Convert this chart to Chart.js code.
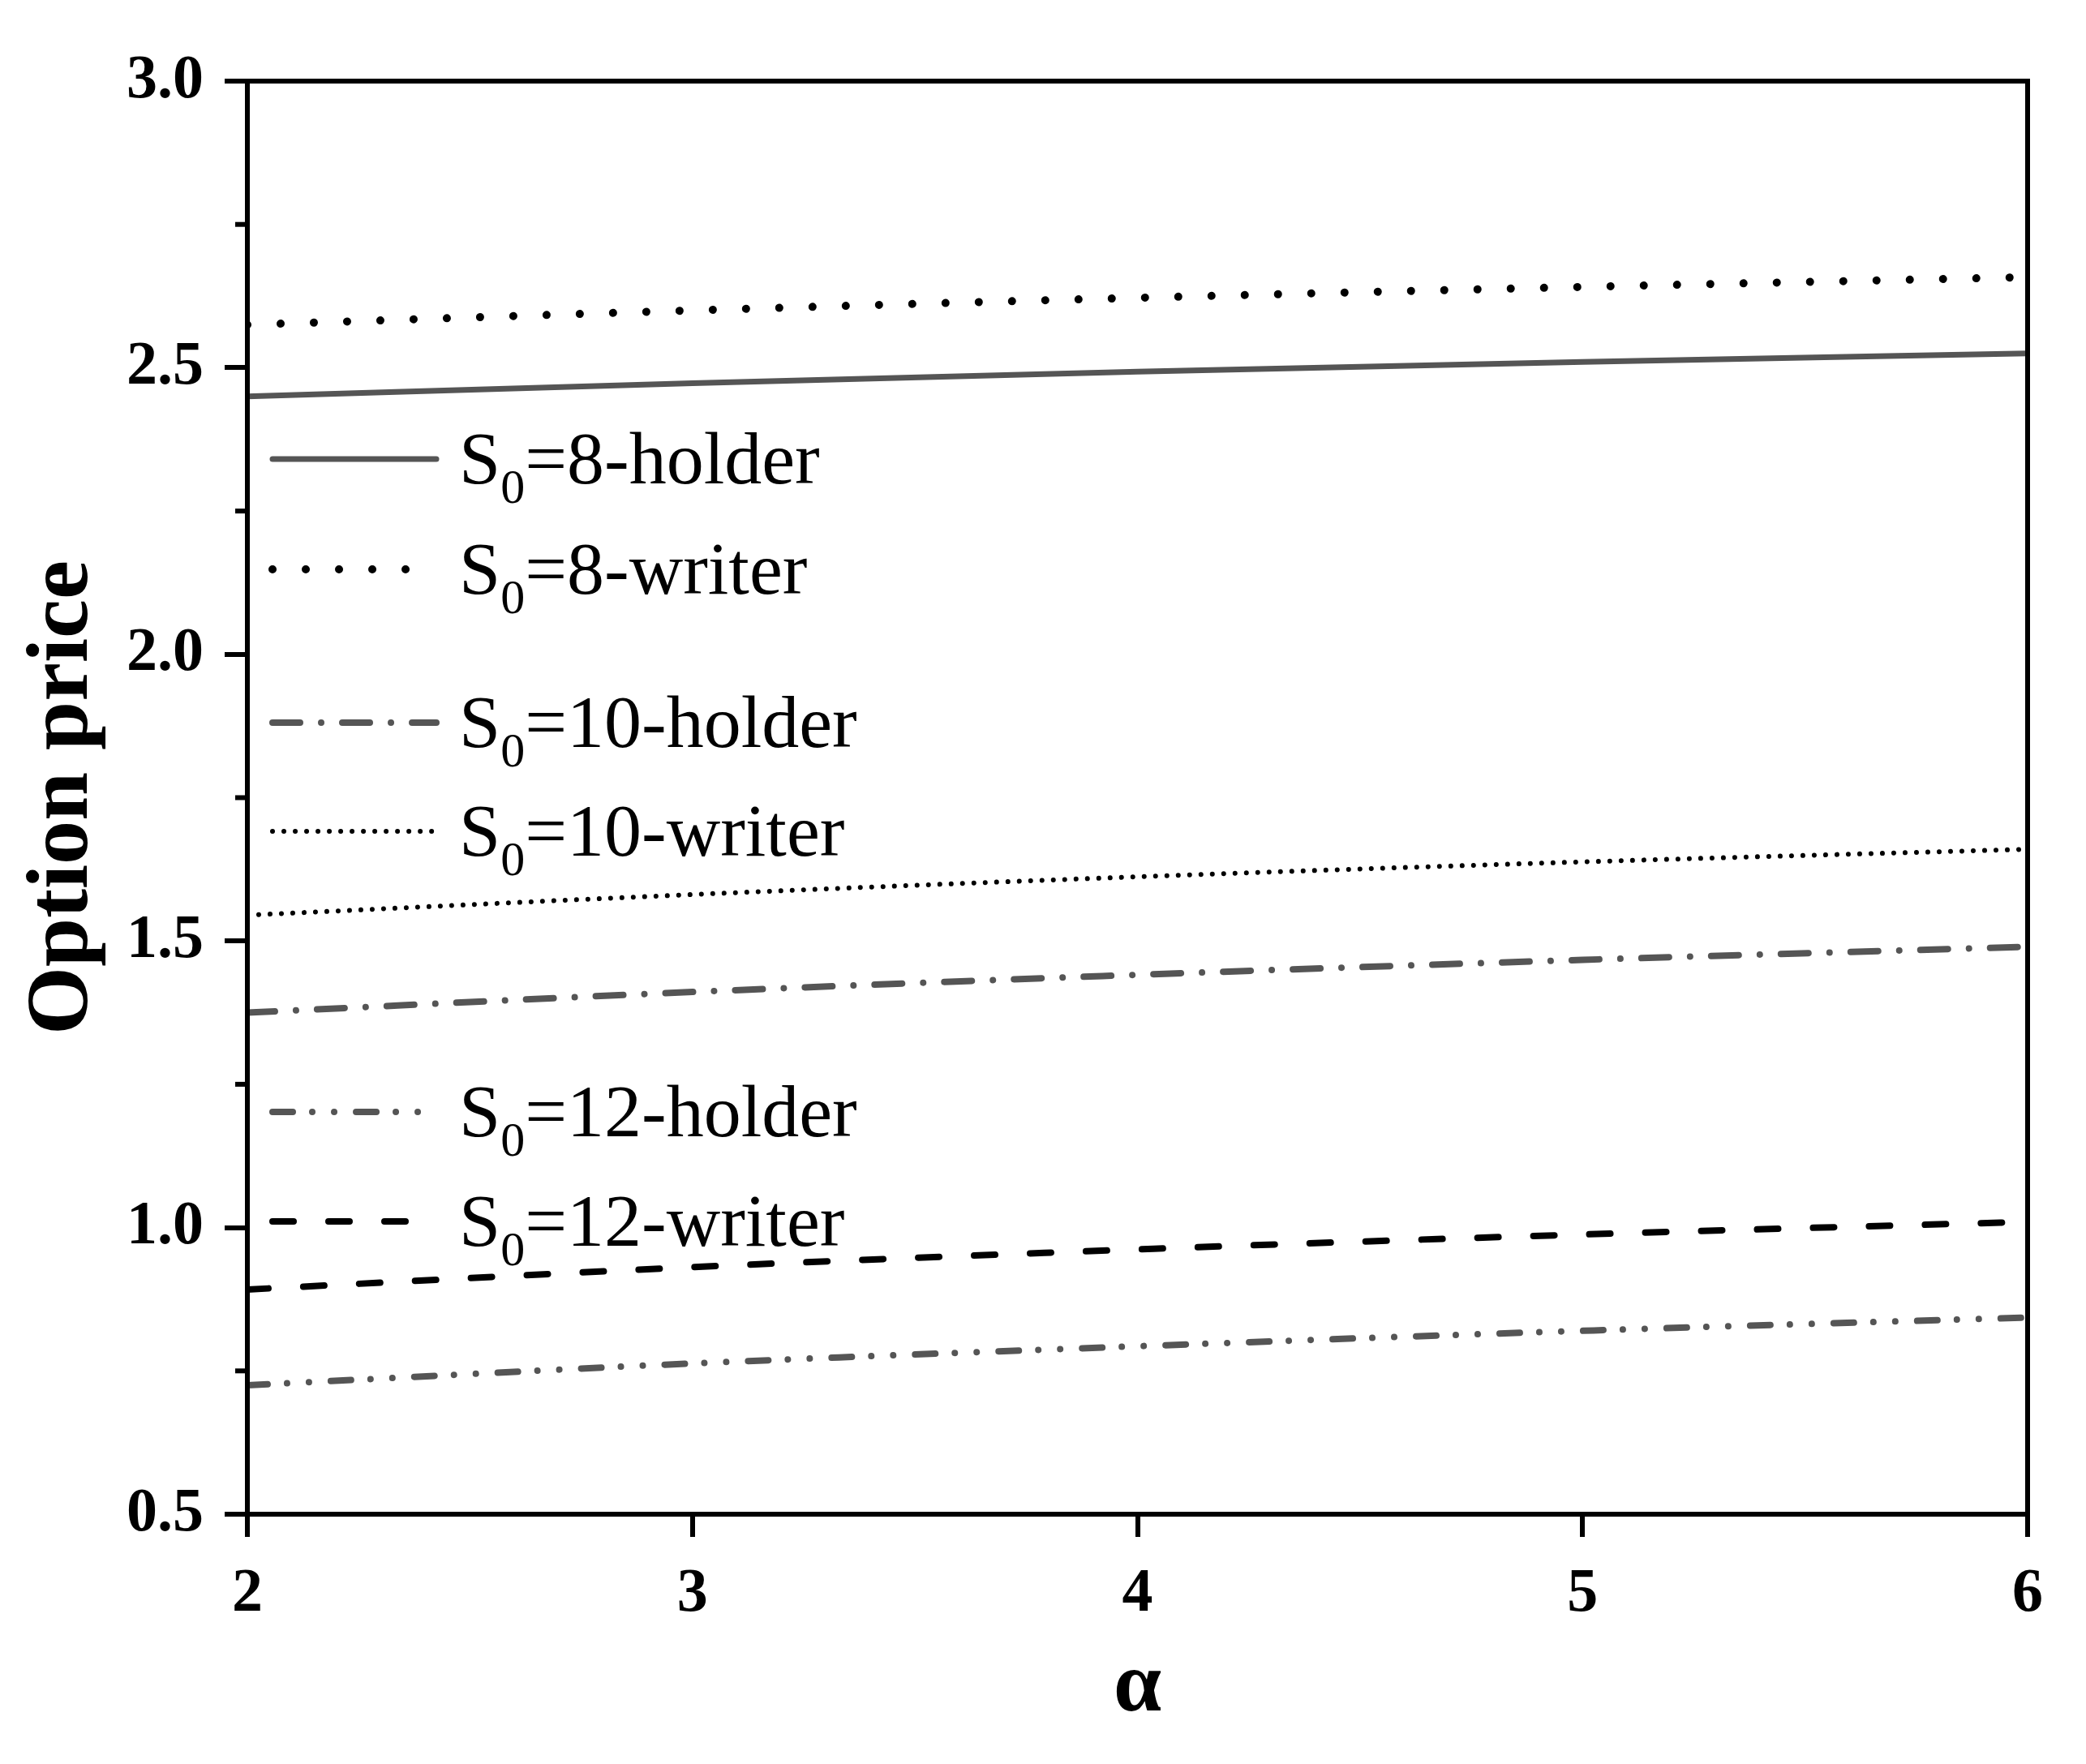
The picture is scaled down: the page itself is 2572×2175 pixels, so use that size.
<!DOCTYPE html>
<html>
<head>
<meta charset="utf-8">
<script src="https://cdn.jsdelivr.net/npm/chart.js@4.4.1/dist/chart.umd.min.js"></script>
<style>
  html, body { margin: 0; padding: 0; background: #fff; }
  #wrap { width: 2572px; height: 2175px; }
</style>
</head>
<body>
<div id="wrap"><canvas id="c" width="2572" height="2175"></canvas></div>
<script>
// alpha on the x axis, option price on y
const alpha = [2, 3, 4, 5, 6];
const s8Holder  = [2.450, 2.473, 2.493, 2.510, 2.525];
const s8Writer  = [2.575, 2.600, 2.622, 2.641, 2.658];
const s10Holder = [1.375, 1.411, 1.441, 1.467, 1.490];
const s10Writer = [1.545, 1.581, 1.612, 1.638, 1.660];
const s12Holder = [0.725, 0.763, 0.793, 0.820, 0.843];
const s12Writer = [0.892, 0.931, 0.962, 0.988, 1.010];
const seriesNames = ["=8-holder", "=8-writer", "=10-holder", "=10-writer", "=12-holder", "=12-writer"];
const yTicks = [0.5, 1.0, 1.5, 2.0, 2.5, 3.0];
const xTicks = [2, 3, 4, 5, 6];

const SERIF = "'Liberation Serif', 'Times New Roman', serif";
const GRAY = "#555555";

const pts = (ys) => alpha.map((x, i) => ({ x, y: ys[i] }));

function ds(ys, color, width, dash) {
  return {
    data: pts(ys),
    borderColor: color,
    borderWidth: width,
    borderDash: dash,
    borderCapStyle: "round",
    pointRadius: 0,
    cubicInterpolationMode: "monotone",
    fill: false,
  };
}

const datasets = [
  ds(s8Holder,  GRAY,   7, []),
  ds(s8Writer,  "#000", 10, [0.01, 41]),
  ds(s10Holder, GRAY,   8, [34, 26, 0.01, 26]),
  ds(s10Writer, "#000", 6, [0.01, 14]),
  ds(s12Holder, GRAY,   8, [25, 24, 0.01, 27, 0.01, 27]),
  ds(s12Writer, "#000", 8, [26, 43]),
];

// рамка + мелкие деления + легенда, рисуем поверх линий
const extras = {
  id: "extras",
  afterDatasetsDraw(chart) {
    const { ctx, chartArea: a, scales } = chart;
    ctx.save();
    ctx.strokeStyle = "#000";
    ctx.lineWidth = 6;
    ctx.setLineDash([]);
    ctx.strokeRect(a.left, a.top, a.right - a.left, a.bottom - a.top);
    // minor ticks on y
    ctx.lineCap = "butt";
    for (let i = 0; i < yTicks.length - 1; i++) {
      const v = (yTicks[i] + yTicks[i + 1]) / 2;
      const y = scales.y.getPixelForValue(v);
      ctx.beginPath();
      ctx.moveTo(a.left, y);
      ctx.lineTo(a.left - 15, y);
      ctx.stroke();
    }
    // legend
    const rowsY = [566, 702, 891, 1025, 1371, 1506];
    chart.data.datasets.forEach((d, i) => {
      const y = rowsY[i];
      ctx.strokeStyle = d.borderColor;
      ctx.lineWidth = d.borderWidth;
      ctx.lineCap = "round";
      ctx.setLineDash(d.borderDash);
      ctx.beginPath();
      ctx.moveTo(336, y);
      ctx.lineTo(538, y);
      ctx.stroke();
      ctx.setLineDash([]);
      ctx.fillStyle = "#000";
      ctx.textBaseline = "alphabetic";
      ctx.textAlign = "left";
      const base = y + 30;
      let x = 566;
      ctx.font = "92px " + SERIF;
      ctx.fillText("S", x, base);
      x += ctx.measureText("S").width;
      ctx.font = "60px " + SERIF;
      ctx.fillText("0", x, base + 24);
      x += ctx.measureText("0").width;
      ctx.font = "92px " + SERIF;
      ctx.fillText(seriesNames[i], x, base);
    });
    ctx.restore();
  },
};

const tickFont = { family: SERIF, size: 76, weight: "bold" };

new Chart(document.getElementById("c"), {
  type: "line",
  data: { datasets },
  plugins: [extras],
  options: {
    responsive: false,
    devicePixelRatio: 1,
    animation: false,
    layout: { padding: { left: 0, right: 72, top: 100, bottom: 15 } },
    plugins: { legend: { display: false }, tooltip: { enabled: false } },
    scales: {
      x: {
        type: "linear",
        min: 2, max: 6,
        afterFit: (s) => { s.height = 293; },
        afterBuildTicks: (s) => { s.ticks = xTicks.map(v => ({ value: v })); },
        ticks: { font: tickFont, color: "#000", padding: 26, maxRotation: 0,
                 callback: (v) => String(v) },
        grid: { drawOnChartArea: false, drawTicks: true, tickLength: 28,
                tickWidth: 6, tickColor: "#000", lineWidth: 6 },
        border: { display: false },
        title: { display: true, text: "α", color: "#000", padding: { top: 0, bottom: 15 },
                 font: { family: SERIF, size: 106, weight: "bold", lineHeight: 1.2 } },
      },
      y: {
        min: 0.5, max: 3.0,
        afterFit: (s) => { s.width = 305; },
        afterBuildTicks: (s) => { s.ticks = yTicks.map(v => ({ value: v })); },
        ticks: { font: tickFont, color: "#000", padding: 26,
                 callback: (v) => Number(v).toFixed(1) },
        grid: { drawOnChartArea: false, drawTicks: true, tickLength: 28,
                tickWidth: 6, tickColor: "#000", lineWidth: 6 },
        border: { display: false },
        title: { display: true, text: "Option price", color: "#000", padding: { top: 14, bottom: 0 },
                 font: { family: SERIF, size: 108, weight: "bold", lineHeight: 1.2 } },
      },
    },
  },
});
</script>
</body>
</html>
